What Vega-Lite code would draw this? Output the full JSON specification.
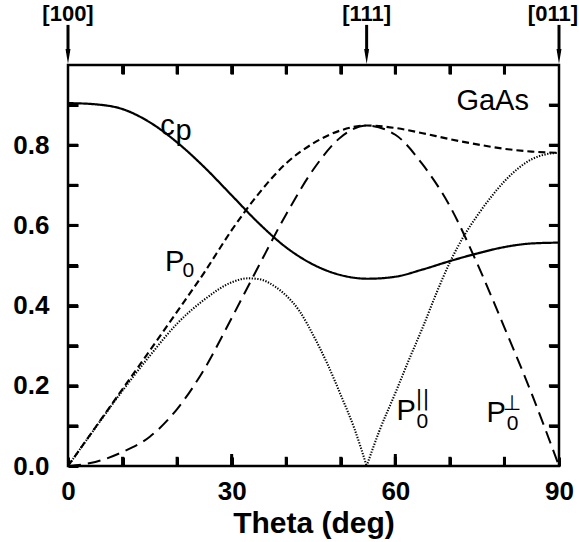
{
  "$schema": "https://vega.github.io/schema/vega-lite/v6.json",
  "width": 491,
  "height": 401,
  "autosize": {"type": "none"},
  "padding": {"left": 68, "top": 65, "right": 20, "bottom": 76},
  "background": "white",
  "config": {
    "view": {"stroke": "black", "strokeWidth": 2.5},
    "font": "Liberation Sans",
    "axis": {"grid": false, "domain": false, "ticks": true, "tickColor": "black", "tickOpacity": 1, "tickWidth": 3, "labelColor": "black", "titleColor": "black", "labelFlush": false, "labelOverlap": false}
  },
  "datasets": {
    "curves": [
      {"t": 0, "v": 0.905, "c": "cp", "part": "a"},
      {"t": 5, "v": 0.902, "c": "cp", "part": "a"},
      {"t": 10, "v": 0.89, "c": "cp", "part": "a"},
      {"t": 15, "v": 0.857, "c": "cp", "part": "a"},
      {"t": 20, "v": 0.807, "c": "cp", "part": "a"},
      {"t": 25, "v": 0.745, "c": "cp", "part": "a"},
      {"t": 30, "v": 0.675, "c": "cp", "part": "a"},
      {"t": 35, "v": 0.605, "c": "cp", "part": "a"},
      {"t": 40, "v": 0.545, "c": "cp", "part": "a"},
      {"t": 45, "v": 0.502, "c": "cp", "part": "a"},
      {"t": 50, "v": 0.476, "c": "cp", "part": "a"},
      {"t": 55, "v": 0.467, "c": "cp", "part": "a"},
      {"t": 60, "v": 0.472, "c": "cp", "part": "a"},
      {"t": 65, "v": 0.49, "c": "cp", "part": "a"},
      {"t": 70, "v": 0.511, "c": "cp", "part": "a"},
      {"t": 75, "v": 0.53, "c": "cp", "part": "a"},
      {"t": 80, "v": 0.546, "c": "cp", "part": "a"},
      {"t": 85, "v": 0.555, "c": "cp", "part": "a"},
      {"t": 90, "v": 0.557, "c": "cp", "part": "a"},

      {"t": 0, "v": 0, "c": "P0", "part": "a"},
      {"t": 5, "v": 0.096, "c": "P0", "part": "a"},
      {"t": 10, "v": 0.192, "c": "P0", "part": "a"},
      {"t": 15, "v": 0.288, "c": "P0", "part": "a"},
      {"t": 20, "v": 0.385, "c": "P0", "part": "a"},
      {"t": 25, "v": 0.483, "c": "P0", "part": "a"},
      {"t": 30, "v": 0.588, "c": "P0", "part": "a"},
      {"t": 35, "v": 0.68, "c": "P0", "part": "a"},
      {"t": 40, "v": 0.755, "c": "P0", "part": "a"},
      {"t": 45, "v": 0.805, "c": "P0", "part": "a"},
      {"t": 50, "v": 0.837, "c": "P0", "part": "a"},
      {"t": 54.74, "v": 0.849, "c": "P0", "part": "a"},
      {"t": 60, "v": 0.843, "c": "P0", "part": "a"},
      {"t": 65, "v": 0.83, "c": "P0", "part": "a"},
      {"t": 70, "v": 0.815, "c": "P0", "part": "a"},
      {"t": 75, "v": 0.802, "c": "P0", "part": "a"},
      {"t": 80, "v": 0.791, "c": "P0", "part": "a"},
      {"t": 85, "v": 0.784, "c": "P0", "part": "a"},
      {"t": 90, "v": 0.781, "c": "P0", "part": "a"},

      {"t": 0, "v": 0, "c": "Ppar", "part": "a"},
      {"t": 5, "v": 0.095, "c": "Ppar", "part": "a"},
      {"t": 10, "v": 0.188, "c": "Ppar", "part": "a"},
      {"t": 15, "v": 0.275, "c": "Ppar", "part": "a"},
      {"t": 20, "v": 0.355, "c": "Ppar", "part": "a"},
      {"t": 25, "v": 0.415, "c": "Ppar", "part": "a"},
      {"t": 30, "v": 0.458, "c": "Ppar", "part": "a"},
      {"t": 33, "v": 0.468, "c": "Ppar", "part": "a"},
      {"t": 35, "v": 0.466, "c": "Ppar", "part": "a"},
      {"t": 38, "v": 0.447, "c": "Ppar", "part": "a"},
      {"t": 40, "v": 0.425, "c": "Ppar", "part": "a"},
      {"t": 42.5, "v": 0.385, "c": "Ppar", "part": "a"},
      {"t": 45, "v": 0.325, "c": "Ppar", "part": "a"},
      {"t": 47.5, "v": 0.256, "c": "Ppar", "part": "a"},
      {"t": 50, "v": 0.177, "c": "Ppar", "part": "a"},
      {"t": 52.5, "v": 0.093, "c": "Ppar", "part": "a"},
      {"t": 54.74, "v": 0, "c": "Ppar", "part": "a"},
      {"t": 54.74, "v": 0, "c": "Ppar", "part": "b"},
      {"t": 57, "v": 0.085, "c": "Ppar", "part": "b"},
      {"t": 60, "v": 0.182, "c": "Ppar", "part": "b"},
      {"t": 62.5, "v": 0.265, "c": "Ppar", "part": "b"},
      {"t": 65, "v": 0.345, "c": "Ppar", "part": "b"},
      {"t": 67.5, "v": 0.43, "c": "Ppar", "part": "b"},
      {"t": 70, "v": 0.508, "c": "Ppar", "part": "b"},
      {"t": 72.5, "v": 0.572, "c": "Ppar", "part": "b"},
      {"t": 75, "v": 0.624, "c": "Ppar", "part": "b"},
      {"t": 77.5, "v": 0.67, "c": "Ppar", "part": "b"},
      {"t": 80, "v": 0.71, "c": "Ppar", "part": "b"},
      {"t": 82.5, "v": 0.742, "c": "Ppar", "part": "b"},
      {"t": 85, "v": 0.765, "c": "Ppar", "part": "b"},
      {"t": 87.5, "v": 0.777, "c": "Ppar", "part": "b"},
      {"t": 90, "v": 0.781, "c": "Ppar", "part": "b"},

      {"t": 0, "v": 0, "c": "Pperp", "part": "a"},
      {"t": 5, "v": 0.01, "c": "Pperp", "part": "a"},
      {"t": 10, "v": 0.035, "c": "Pperp", "part": "a"},
      {"t": 15, "v": 0.073, "c": "Pperp", "part": "a"},
      {"t": 20, "v": 0.142, "c": "Pperp", "part": "a"},
      {"t": 25, "v": 0.242, "c": "Pperp", "part": "a"},
      {"t": 30, "v": 0.369, "c": "Pperp", "part": "a"},
      {"t": 35, "v": 0.5, "c": "Pperp", "part": "a"},
      {"t": 40, "v": 0.628, "c": "Pperp", "part": "a"},
      {"t": 45, "v": 0.74, "c": "Pperp", "part": "a"},
      {"t": 50, "v": 0.82, "c": "Pperp", "part": "a"},
      {"t": 54.74, "v": 0.849, "c": "Pperp", "part": "a"},
      {"t": 60, "v": 0.826, "c": "Pperp", "part": "a"},
      {"t": 65, "v": 0.752, "c": "Pperp", "part": "a"},
      {"t": 70, "v": 0.648, "c": "Pperp", "part": "a"},
      {"t": 75, "v": 0.505, "c": "Pperp", "part": "a"},
      {"t": 80, "v": 0.345, "c": "Pperp", "part": "a"},
      {"t": 85, "v": 0.18, "c": "Pperp", "part": "a"},
      {"t": 90, "v": 0, "c": "Pperp", "part": "a"}
    ],
    "dirs": [
      {"t": 0, "s": "[100]"},
      {"t": 54.74, "s": "[111]"},
      {"t": 90, "s": "[011]"}
    ],
    "xticks": [
      {"t": 10}, {"t": 20}, {"t": 30}, {"t": 40}, {"t": 50}, {"t": 60}, {"t": 70}, {"t": 80}
    ],
    "yticks": [
      {"v": 0.1}, {"v": 0.2}, {"v": 0.3}, {"v": 0.4}, {"v": 0.5}, {"v": 0.6}, {"v": 0.7}, {"v": 0.8}, {"v": 0.9}
    ],
    "bigText": [
      {"t": 71.2, "v": 0.888, "s": "GaAs"},
      {"t": 16.9, "v": 0.825, "s": "c"},
      {"t": 19.7, "v": 0.813, "s": "p"},
      {"t": 17.8, "v": 0.486, "s": "P"},
      {"t": 60.2, "v": 0.115, "s": "P"},
      {"t": 76.7, "v": 0.11, "s": "P"}
    ],
    "subText": [
      {"t": 21.0, "v": 0.471, "s": "0"},
      {"t": 63.9, "v": 0.095, "s": "0"},
      {"t": 80.4, "v": 0.09, "s": "0"}
    ],
    "supText": [
      {"t": 63.7, "v": 0.152, "s": "||"},
      {"t": 79.7, "v": 0.14, "s": "⊥"}
    ]
  },
  "layer": [
    {
      "data": {"name": "curves"},
      "mark": {"type": "line", "interpolate": "monotone", "color": "black", "clip": false},
      "encoding": {
        "x": {
          "field": "t", "type": "quantitative",
          "scale": {"domain": [0, 90], "nice": false},
          "axis": {
            "orient": "bottom",
            "offset": -9,
            "values": [0, 10, 20, 30, 40, 50, 60, 70, 80, 90],
            "labelExpr": "datum.value % 30 === 0 ? datum.label : ''",
            "ticks": true, "tickSize": 9, "tickColor": "black", "tickWidth": 3,
            "labelFontSize": 26, "labelFontWeight": "bold", "labelPadding": 12,
            "title": "Theta (deg)", "titleFontSize": 30, "titleFontWeight": "bold", "titlePadding": 4
          }
        },
        "y": {
          "field": "v", "type": "quantitative",
          "scale": {"domain": [0, 1], "nice": false},
          "axis": {
            "orient": "left",
            "offset": -10,
            "values": [0, 0.1, 0.2, 0.3, 0.4, 0.5, 0.6, 0.7, 0.8, 0.9],
            "labelExpr": "round(datum.value * 10) % 2 === 0 ? format(datum.value, '.1f') : ''",
            "ticks": true, "tickSize": 10, "tickColor": "black", "tickWidth": 3,
            "labelFontSize": 26, "labelFontWeight": "bold", "labelPadding": 19,
            "title": null
          }
        },
        "detail": {"field": "part"},
        "strokeDash": {
          "field": "c", "type": "nominal",
          "scale": {"domain": ["cp", "P0", "Ppar", "Pperp"], "range": [[1, 0], [7, 4], [1.3, 1.5], [13, 7]]},
          "legend": null
        },
        "strokeWidth": {
          "field": "c", "type": "nominal",
          "scale": {"domain": ["cp", "P0", "Ppar", "Pperp"], "range": [2.2, 2, 1.6, 2]},
          "legend": null
        }
      }
    },
    {
      "data": {"name": "dirs"},
      "mark": {"type": "rule", "color": "black", "strokeWidth": 3, "clip": false},
      "encoding": {
        "x": {
          "field": "t", "type": "quantitative",
          "axis": {"orient": "top", "offset": -9, "values": [10, 20, 30, 40, 50, 60, 70, 80], "labels": false, "ticks": true, "tickSize": 9, "tickColor": "black", "tickWidth": 3, "title": null}
        },
        "y": {"datum": 1.03, "axis": {"orient": "right", "offset": -10, "values": [0.1, 0.2, 0.3, 0.4, 0.5, 0.6, 0.7, 0.8, 0.9], "labels": false, "ticks": true, "tickSize": 10, "tickColor": "black", "tickWidth": 3, "title": null}},
        "y2": {"datum": 1.1}
      }
    },
    {
      "data": {"name": "xticks"},
      "mark": {"type": "rule", "color": "black", "strokeWidth": 3, "clip": false},
      "encoding": {
        "x": {"field": "t", "type": "quantitative", "axis": null},
        "y": {"datum": 0, "axis": null},
        "y2": {"datum": 0.023}
      }
    },
    {
      "data": {"name": "xticks"},
      "transform": [{"filter": "datum.t % 30 === 0"}],
      "mark": {"type": "rule", "color": "black", "strokeWidth": 3, "clip": false},
      "encoding": {
        "x": {"field": "t", "type": "quantitative", "axis": null},
        "y": {"datum": 0, "axis": null},
        "y2": {"datum": 0.03}
      }
    },
    {
      "data": {"name": "xticks"},
      "mark": {"type": "rule", "color": "black", "strokeWidth": 3, "clip": false},
      "encoding": {
        "x": {"field": "t", "type": "quantitative", "axis": null},
        "y": {"datum": 1, "axis": null},
        "y2": {"datum": 0.977}
      }
    },
    {
      "data": {"name": "yticks"},
      "mark": {"type": "rule", "color": "black", "strokeWidth": 3, "clip": false},
      "encoding": {
        "y": {"field": "v", "type": "quantitative", "axis": null},
        "x": {"datum": 0, "axis": null},
        "x2": {"datum": 1.85}
      }
    },
    {
      "data": {"name": "yticks"},
      "mark": {"type": "rule", "color": "black", "strokeWidth": 3, "clip": false},
      "encoding": {
        "y": {"field": "v", "type": "quantitative", "axis": null},
        "x": {"datum": 90, "axis": null},
        "x2": {"datum": 88.15}
      }
    },
    {
      "data": {"name": "dirs"},
      "mark": {"type": "point", "shape": "M-0.33,-1L0.33,-1L0,1Z", "filled": true, "color": "black", "size": 225, "opacity": 1, "clip": false},
      "encoding": {
        "x": {"field": "t", "type": "quantitative", "axis": null},
        "y": {"datum": 1.0212, "axis": null}
      }
    },
    {
      "data": {"name": "dirs"},
      "transform": [{"filter": "datum.t < 90"}],
      "mark": {"type": "text", "font": "Liberation Sans", "fontWeight": "bold", "fontSize": 22, "align": "center", "baseline": "alphabetic", "color": "black", "clip": false},
      "encoding": {
        "x": {"field": "t", "type": "quantitative", "axis": null},
        "y": {"datum": 1.11, "axis": null},
        "text": {"field": "s"}
      }
    },
    {
      "data": {"name": "dirs"},
      "transform": [{"filter": "datum.t >= 90"}],
      "mark": {"type": "text", "font": "Liberation Sans", "fontWeight": "bold", "fontSize": 22, "align": "right", "baseline": "alphabetic", "dx": 19, "color": "black", "clip": false},
      "encoding": {
        "x": {"field": "t", "type": "quantitative", "axis": null},
        "y": {"datum": 1.11, "axis": null},
        "text": {"field": "s"}
      }
    },
    {
      "data": {"name": "bigText"},
      "mark": {"type": "text", "font": "Liberation Sans", "fontSize": 29, "align": "left", "baseline": "alphabetic", "color": "black"},
      "encoding": {
        "x": {"field": "t", "type": "quantitative", "axis": null},
        "y": {"field": "v", "type": "quantitative", "axis": null},
        "text": {"field": "s"}
      }
    },
    {
      "data": {"name": "subText"},
      "mark": {"type": "text", "font": "Liberation Sans", "fontSize": 21, "align": "left", "baseline": "alphabetic", "color": "black"},
      "encoding": {
        "x": {"field": "t", "type": "quantitative", "axis": null},
        "y": {"field": "v", "type": "quantitative", "axis": null},
        "text": {"field": "s"}
      }
    },
    {
      "data": {"name": "supText"},
      "mark": {"type": "text", "font": "DejaVu Sans", "fontSize": 21, "align": "left", "baseline": "alphabetic", "color": "black"},
      "encoding": {
        "x": {"field": "t", "type": "quantitative", "axis": null},
        "y": {"field": "v", "type": "quantitative", "axis": null},
        "text": {"field": "s"}
      }
    }
  ]
}
